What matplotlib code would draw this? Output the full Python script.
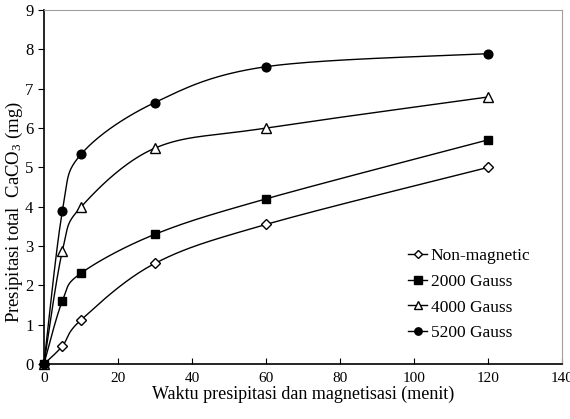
import numpy as np
import matplotlib
matplotlib.use("Agg")
import matplotlib.pyplot as plt
from matplotlib.lines import Line2D

plt.rcParams['font.family'] = ['Liberation Serif', 'DejaVu Serif']
plt.rcParams['mathtext.fontset'] = 'custom'
plt.rcParams['mathtext.rm'] = 'Liberation Serif'
plt.rcParams['mathtext.it'] = 'Liberation Serif:italic'

# data
waktu = [0, 5, 10, 30, 60, 120]
non_magnetic = [0, 0.46, 1.12, 2.56, 3.55, 5.0]
gauss_2000 = [0, 1.61, 2.31, 3.30, 4.20, 5.70]
gauss_4000 = [0, 2.88, 3.99, 5.49, 6.0, 6.79]
gauss_5200 = [0, 3.89, 5.33, 6.65, 7.56, 7.89]
labels = ['Non-magnetic', '2000 Gauss', '4000 Gauss', '5200 Gauss']


def smooth(xs, ys, sx, sy, n=40):
	# excel style smoothed line (catmull-rom via bezier), done in screen-ish units
	p = np.column_stack([np.array(xs) * sx, np.array(ys) * sy])
	out = [p[0]]
	for i in range(len(p) - 1):
		p0 = p[i - 1] if i > 0 else p[i]
		p1, p2 = p[i], p[i + 1]
		p3 = p[i + 2] if i + 2 < len(p) else p[i + 1]
		c1 = p1 + (p2 - p0) / 6.0
		c2 = p2 - (p3 - p1) / 6.0
		t = np.linspace(0, 1, n)[1:, None]
		seg = (1 - t) ** 3 * p1 + 3 * (1 - t) ** 2 * t * c1 + 3 * (1 - t) * t ** 2 * c2 + t ** 3 * p2
		out.extend(seg)
	out = np.array(out)
	return out[:, 0] / sx, out[:, 1] / sy


fig = plt.figure(figsize=(5.7, 4.19), dpi=100)
ax = fig.add_axes([0.077, 0.131, 0.909, 0.845])

sx = 518 / 140.0
sy = 354 / 9.0
series = [non_magnetic, gauss_2000, gauss_4000, gauss_5200]
markers = [('D', 'white', 4.8), ('s', 'black', 6.3), ('^', 'white', 6.5), ('o', 'black', 6.3)]
handles = []
for ys, (m, fc, ms), lab in zip(series, markers, labels):
	cx, cy = smooth(waktu, ys, sx, sy)
	ax.plot(cx, cy, color='black', lw=1.0, zorder=2)
	ax.plot(waktu, ys, ls='none', marker=m, mfc=fc, mec='black', ms=ms, mew=1.0, zorder=3, clip_on=False)
	handles.append(Line2D([], [], color='black', lw=1.0, marker=m, mfc=fc, mec='black', ms=ms - 1, mew=1.0))

ax.set_xlim(0, 140)
ax.set_ylim(0, 9)
ax.set_xticks(range(0, 141, 20))
ax.set_yticks(range(0, 10))
ax.tick_params(axis='x', direction='in', length=4, labelsize=11, pad=6)
ax.tick_params(axis='y', direction='out', length=4, labelsize=12)
for s in ['top', 'right']:
	ax.spines[s].set_color('#a0a0a0')
for s in ['left', 'bottom']:
	ax.spines[s].set_linewidth(1.2)

ax.set_xlabel('Waktu presipitasi dan magnetisasi (menit)', fontsize=13, labelpad=0)
ax.set_ylabel('Presipitasi total  CaCO$_3$ (mg)', fontsize=13.5)
ax.yaxis.set_label_coords(-0.036, 0.43)

ax.legend(handles, labels, loc='upper left', bbox_to_anchor=(408 / 570, 1 - 248 / 419),
	bbox_transform=fig.transFigure, frameon=False, borderpad=0, borderaxespad=0,
	fontsize=12.5, handlelength=1.1, handletextpad=0.2, labelspacing=0.55)

fig.savefig('out.png', dpi=100)
